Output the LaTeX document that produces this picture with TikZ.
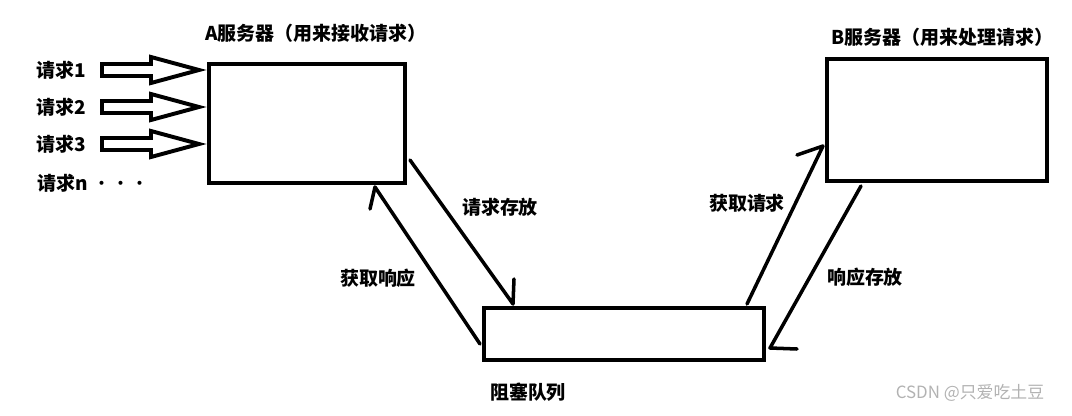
\documentclass[tikz,border=0pt]{standalone}
\usepackage{fontspec}
\newfontfamily\cjk{Noto Sans CJK SC}
\colorlet{inkcolor}{black}
\colorlet{markcolor}{black!30}
\newcommand{\reqarrow}[1]{%
    \draw[reqline] (102,#1-6) -- (151,#1-6) -- (151,#1-13) -- (199,#1) -- (151,#1+13) -- (151,#1+6) -- (102,#1+6) -- cycle;
}

\begin{document}
\begin{tikzpicture}[x=0.025cm, y=-0.025cm,
    box/.style={draw=inkcolor, line width=3pt, inner sep=0pt},
    txt/.style={font=\cjk\bfseries\fontsize{13.5}{15}\selectfont, inner sep=0pt},
    flow/.style={draw=inkcolor, line width=2.5pt, line cap=round, line join=round},
    reqline/.style={draw=inkcolor, line width=2.8pt, line join=miter}]
    \useasboundingbox (0,0) rectangle (1072,415);
    % --- servers and queue ---
    \node[box, minimum width=4.9cm, minimum height=2.975cm] (serverA) at (307,123.5) {};
    \node[box, minimum width=5.5cm, minimum height=3.05cm] (serverB) at (937,120) {};
    \node[box, minimum width=7cm, minimum height=1.3cm] (queue) at (624,334) {};
    \node[txt] (titleA) at (316,33) {A服务器（用来接收请求）};
    \node[txt] (titleB) at (942,37) {B服务器（用来处理请求）};
    \node[txt] (titleQ) at (528,392) {阻塞队列};
    % --- incoming requests ---
    \foreach \c/\n in {70/1,107/2,144/3} {
            \reqarrow{\c}
            \node[txt] (req\n) at (61,\c) {请求\n};
        }
    \node[txt, anchor=west] (reqn) at (37,183) {请求n {\mdseries···}};
    % --- A <-> queue ---
    \coordinate (aOut) at (410,160);
    \coordinate (qIn) at (513,304);
    \draw[flow] (aOut) -- (qIn) -- ++(1,-25);
    \coordinate (qOut) at (480,344);
    \coordinate (aIn) at (375,187);
    \draw[flow] (qOut) -- (aIn) -- ++(-5,22);
    \node[txt] (store) at (500,207) {请求存放};
    \node[txt] (fetch) at (378,278) {获取响应};
    % --- queue <-> B ---
    \coordinate (qTake) at (747,304);
    \coordinate (bIn) at (823,146);
    \draw[flow] (qTake) -- (bIn) -- ++(-26,9);
    \coordinate (bOut) at (861,186);
    \coordinate (qPut) at (770,348);
    \draw[flow] (bOut) -- (qPut) -- ++(27,1);
    \node[txt] (take) at (747,203) {获取请求};
    \node[txt] (put) at (865,277) {响应存放};
    % --- watermark ---
    \node[font=\cjk\fontsize{12}{14}\selectfont, text=markcolor, inner sep=0pt] (mark) at (970,393) {CSDN @只爱吃土豆};
\end{tikzpicture}
\end{document}
